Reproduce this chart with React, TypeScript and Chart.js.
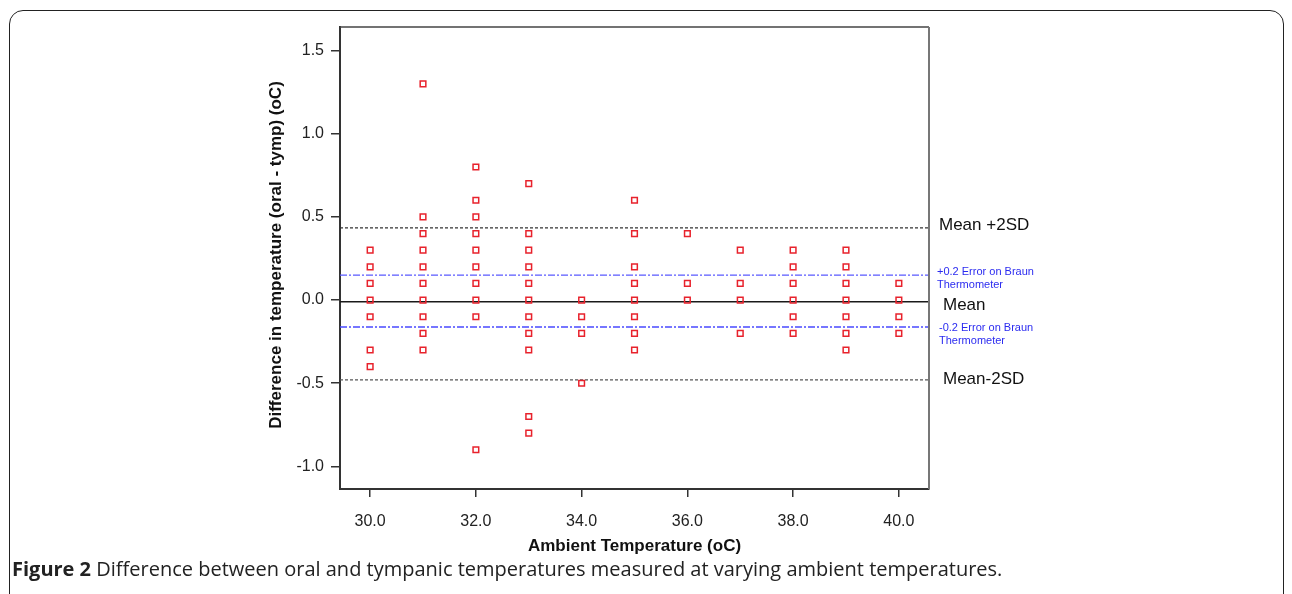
import React, { useEffect, useRef } from "react";
import { Chart, registerables } from "chart.js";

Chart.register(...registerables);

// ---- Axis ranges and ticks ----
const xMin = 29.43;
const xMax = 40.57;
const yMin = -1.136;
const yMax = 1.642;
const xTicks = [30, 32, 34, 36, 38, 40];
const yTicks = [-1.0, -0.5, 0.0, 0.5, 1.0, 1.5];

// ---- Observations: difference (oral - tymp) per ambient temperature ----
const ambientTemps = [30, 31, 32, 33, 34, 35, 36, 37, 38, 39, 40];
const diffsAt30 = [0.3, 0.2, 0.1, 0.0, -0.1, -0.3, -0.4];
const diffsAt31 = [1.3, 0.5, 0.4, 0.3, 0.2, 0.1, 0.0, -0.1, -0.2, -0.3];
const diffsAt32 = [0.8, 0.6, 0.5, 0.4, 0.3, 0.2, 0.1, 0.0, -0.1, -0.9];
const diffsAt33 = [0.7, 0.4, 0.3, 0.2, 0.1, 0.0, -0.1, -0.2, -0.3, -0.7, -0.8];
const diffsAt34 = [0.0, -0.1, -0.2, -0.5];
const diffsAt35 = [0.6, 0.4, 0.2, 0.1, 0.0, -0.1, -0.2, -0.3];
const diffsAt36 = [0.4, 0.1, 0.0];
const diffsAt37 = [0.3, 0.1, 0.0, -0.2];
const diffsAt38 = [0.3, 0.2, 0.1, 0.0, -0.1, -0.2];
const diffsAt39 = [0.3, 0.2, 0.1, 0.0, -0.1, -0.2, -0.3];
const diffsAt40 = [0.1, 0.0, -0.1, -0.2];
const diffColumns = [
  diffsAt30, diffsAt31, diffsAt32, diffsAt33, diffsAt34, diffsAt35,
  diffsAt36, diffsAt37, diffsAt38, diffsAt39, diffsAt40,
];

// ---- Reference lines ----
const meanDiff = -0.01;
const meanPlus2SD = 0.434;
const meanMinus2SD = -0.48;
const braunPlus = 0.15;
const braunMinus = -0.162;

const refLabels = ["Mean +2SD", "+0.2 Error on Braun", "Mean", "-0.2 Error on Braun", "Mean-2SD"];

const FONT = "'Liberation Sans', Arial, sans-serif";

export default function App() {
  const canvasRef = useRef<HTMLCanvasElement | null>(null);

  useEffect(() => {
    const canvas = canvasRef.current;
    if (!canvas) return;

    const points: { x: number; y: number }[] = [];
    ambientTemps.forEach((t, i) => {
      diffColumns[i].forEach((d) => points.push({ x: t, y: d }));
    });

    const hLine = (v: number) => [
      { x: xMin, y: v },
      { x: xMax, y: v },
    ];

    const lineBase = {
      type: "line" as const,
      pointRadius: 0,
      fill: false,
      order: 2,
      tension: 0,
    };

    const overlay = {
      id: "overlay",
      afterDraw(chart: any) {
        const { ctx, chartArea } = chart;
        const ys = chart.scales.y;
        // frame top/right
        ctx.save();
        ctx.strokeStyle = "#444";
        ctx.lineWidth = 1.5;
        ctx.beginPath();
        ctx.moveTo(chartArea.left, chartArea.top);
        ctx.lineTo(chartArea.right, chartArea.top);
        ctx.stroke();
        ctx.strokeStyle = "#777";
        ctx.lineWidth = 2;
        ctx.beginPath();
        ctx.moveTo(chartArea.right, chartArea.top);
        ctx.lineTo(chartArea.right, chartArea.bottom);
        ctx.stroke();

        // axis titles
        ctx.fillStyle = "#111";
        ctx.font = `bold 17px ${FONT}`;
        ctx.textAlign = "center";
        ctx.textBaseline = "middle";
        ctx.fillText("Ambient Temperature (oC)", (chartArea.left + chartArea.right) / 2, 546);
        ctx.save();
        ctx.translate(276, 255);
        ctx.rotate(-Math.PI / 2);
        ctx.fillText("Difference in temperature (oral - tymp) (oC)", 0, 0);
        ctx.restore();

        // reference labels
        const x0 = chartArea.right;
        ctx.textAlign = "left";
        ctx.fillStyle = "#111";
        ctx.font = `17px ${FONT}`;
        ctx.fillText(refLabels[0], x0 + 10, ys.getPixelForValue(meanPlus2SD) - 3);
        ctx.fillText(refLabels[2], x0 + 14, ys.getPixelForValue(meanDiff) + 4);
        ctx.fillText(refLabels[4], x0 + 14, ys.getPixelForValue(meanMinus2SD) - 1);
        ctx.fillStyle = "#2b2bf0";
        ctx.font = `11px ${FONT}`;
        const bp = ys.getPixelForValue(braunPlus);
        ctx.fillText(refLabels[1], x0 + 8, bp - 3);
        ctx.fillText("Thermometer", x0 + 8, bp + 9.5);
        const bm = ys.getPixelForValue(braunMinus);
        ctx.fillText(refLabels[3], x0 + 10, bm + 1);
        ctx.fillText("Thermometer", x0 + 10, bm + 13.5);
        ctx.restore();
      },
    };

    const chart = new Chart(canvas, {
      type: "scatter",
      data: {
        datasets: [
          {
            ...lineBase,
            data: hLine(meanPlus2SD),
            borderColor: "#333",
            borderWidth: 1.2,
            borderDash: [3, 2],
          } as any,
          {
            ...lineBase,
            data: hLine(meanMinus2SD),
            borderColor: "#555",
            borderWidth: 1.2,
            borderDash: [3, 2],
          } as any,
          {
            ...lineBase,
            data: hLine(meanDiff),
            borderColor: "#1a1a1a",
            borderWidth: 1.3,
          } as any,
          {
            ...lineBase,
            data: hLine(braunPlus),
            borderColor: "#5a5aff",
            borderWidth: 1.3,
            borderDash: [7, 2, 2, 2],
          } as any,
          {
            ...lineBase,
            data: hLine(braunMinus),
            borderColor: "#4a4aff",
            borderWidth: 1.3,
            borderDash: [7, 2, 2, 2],
          } as any,
          {
            type: "scatter",
            data: points,
            pointStyle: "rect",
            pointRadius: 4,
            pointHoverRadius: 4,
            borderColor: "#e8222c",
            backgroundColor: "rgba(0,0,0,0)",
            borderWidth: 1.5,
            order: 0,
          } as any,
        ],
      },
      options: {
        responsive: false,
        devicePixelRatio: 1,
        animation: false,
        layout: { padding: { left: 0, right: 363, top: 27, bottom: 65 } },
        plugins: {
          legend: { display: false },
          tooltip: { enabled: false },
          title: { display: false },
        },
        scales: {
          x: {
            type: "linear",
            position: "bottom",
            min: xMin,
            max: xMax,
            afterBuildTicks: (s: any) => {
              s.ticks = xTicks.map((value) => ({ value }));
            },
            afterFit: (s: any) => {
              s.height = 40;
            },
            ticks: {
              autoSkip: false,
              maxRotation: 0,
              padding: 15,
              color: "#222",
              font: { family: FONT, size: 16 },
              callback: (v: any) => Number(v).toFixed(1),
            },
            grid: {
              drawOnChartArea: false,
              drawTicks: true,
              tickLength: 8,
              color: "#333",
              lineWidth: 1.5,
            },
            border: { display: true, color: "#333", width: 2 },
          },
          y: {
            type: "linear",
            position: "left",
            min: yMin,
            max: yMax,
            afterBuildTicks: (s: any) => {
              s.ticks = yTicks.map((value) => ({ value }));
            },
            afterFit: (s: any) => {
              s.width = 340;
            },
            ticks: {
              autoSkip: false,
              padding: 7,
              color: "#222",
              font: { family: FONT, size: 16 },
              callback: (v: any) => Number(v).toFixed(1),
            },
            grid: {
              drawOnChartArea: false,
              drawTicks: true,
              tickLength: 9,
              color: "#333",
              lineWidth: 1.5,
            },
            border: { display: true, color: "#333", width: 2 },
          },
        },
      },
      plugins: [overlay],
    } as any);

    return () => chart.destroy();
  }, []);

  return (
    <div
      style={{
        position: "absolute",
        left: 0,
        top: 0,
        width: 1292,
        height: 594,
        overflow: "hidden",
        background: "#fff",
      }}
    >
      <div
        style={{
          position: "absolute",
          left: 9,
          top: 10,
          width: 1275,
          height: 700,
          boxSizing: "border-box",
          border: "1.5px solid #222",
          borderRadius: 14,
        }}
      />
      <canvas
        ref={canvasRef}
        width={1292}
        height={594}
        style={{ position: "absolute", left: 0, top: 0 }}
      />
      <div
        style={{
          position: "absolute",
          left: 12,
          top: 557,
          fontFamily: "'Open Sans', sans-serif",
          fontSize: 20,
          color: "#222",
          whiteSpace: "nowrap",
          lineHeight: "24px",
        }}
      >
        <b>Figure 2</b> Difference between oral and tympanic temperatures measured at varying ambient temperatures.
      </div>
    </div>
  );
}
